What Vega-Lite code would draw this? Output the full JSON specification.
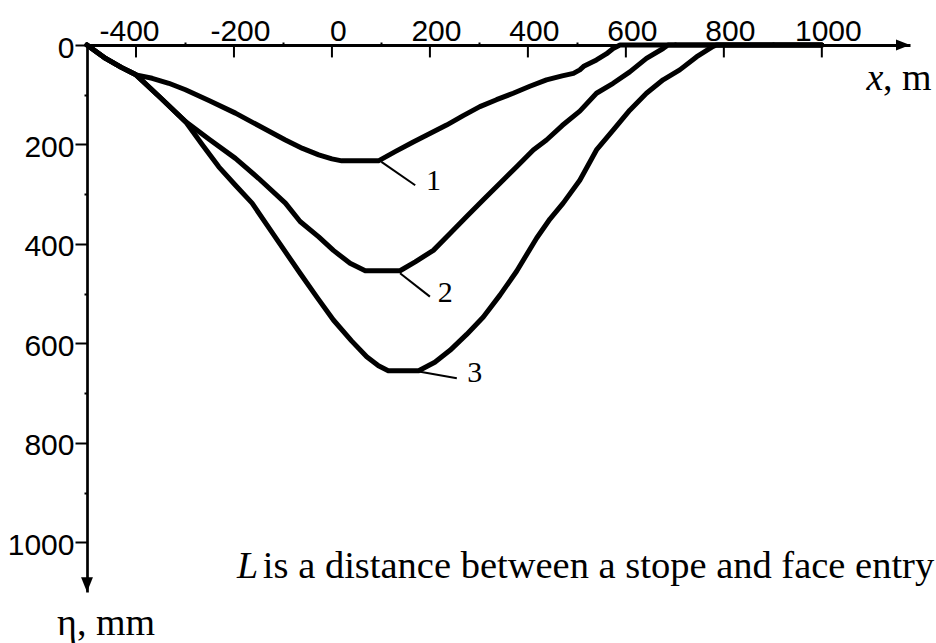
{
  "$schema": "https://vega.github.io/schema/vega-lite/v6.json",
  "width": 823,
  "height": 547,
  "autosize": {"type": "none"},
  "padding": {"left": 87, "top": 45, "right": 26, "bottom": 51},
  "background": "white",
  "config": {"view": {"stroke": null}},
  "datasets": {
    "profiles": [
      {"curve": "1", "x": -500, "eta": 0}, {"curve": "1", "x": -462, "eta": 27}, {"curve": "1", "x": -430, "eta": 45},
      {"curve": "1", "x": -400, "eta": 60}, {"curve": "1", "x": -367, "eta": 67}, {"curve": "1", "x": -333, "eta": 77},
      {"curve": "1", "x": -299, "eta": 90}, {"curve": "1", "x": -250, "eta": 112}, {"curve": "1", "x": -197, "eta": 137},
      {"curve": "1", "x": -150, "eta": 162}, {"curve": "1", "x": -95, "eta": 191}, {"curve": "1", "x": -60, "eta": 208},
      {"curve": "1", "x": -27, "eta": 221}, {"curve": "1", "x": 0, "eta": 229}, {"curve": "1", "x": 20, "eta": 233},
      {"curve": "1", "x": 95, "eta": 233}, {"curve": "1", "x": 130, "eta": 214}, {"curve": "1", "x": 166, "eta": 195},
      {"curve": "1", "x": 200, "eta": 178}, {"curve": "1", "x": 234, "eta": 161}, {"curve": "1", "x": 268, "eta": 142},
      {"curve": "1", "x": 302, "eta": 124}, {"curve": "1", "x": 336, "eta": 110}, {"curve": "1", "x": 370, "eta": 97},
      {"curve": "1", "x": 404, "eta": 83}, {"curve": "1", "x": 438, "eta": 70}, {"curve": "1", "x": 470, "eta": 62},
      {"curve": "1", "x": 493, "eta": 57}, {"curve": "1", "x": 506, "eta": 50}, {"curve": "1", "x": 515, "eta": 42},
      {"curve": "1", "x": 540, "eta": 30}, {"curve": "1", "x": 560, "eta": 18}, {"curve": "1", "x": 574, "eta": 7},
      {"curve": "1", "x": 588, "eta": 0}, {"curve": "1", "x": 1000, "eta": 0},

      {"curve": "2", "x": -500, "eta": 0}, {"curve": "2", "x": -462, "eta": 27}, {"curve": "2", "x": -430, "eta": 45},
      {"curve": "2", "x": -400, "eta": 60}, {"curve": "2", "x": -350, "eta": 106}, {"curve": "2", "x": -299, "eta": 154},
      {"curve": "2", "x": -250, "eta": 190}, {"curve": "2", "x": -197, "eta": 228}, {"curve": "2", "x": -150, "eta": 268},
      {"curve": "2", "x": -95, "eta": 318}, {"curve": "2", "x": -65, "eta": 355}, {"curve": "2", "x": -27, "eta": 386},
      {"curve": "2", "x": 3, "eta": 413}, {"curve": "2", "x": 37, "eta": 439}, {"curve": "2", "x": 68, "eta": 454},
      {"curve": "2", "x": 139, "eta": 454}, {"curve": "2", "x": 170, "eta": 436}, {"curve": "2", "x": 207, "eta": 413},
      {"curve": "2", "x": 241, "eta": 379}, {"curve": "2", "x": 275, "eta": 345}, {"curve": "2", "x": 309, "eta": 311},
      {"curve": "2", "x": 343, "eta": 278}, {"curve": "2", "x": 377, "eta": 245}, {"curve": "2", "x": 411, "eta": 211},
      {"curve": "2", "x": 438, "eta": 191}, {"curve": "2", "x": 470, "eta": 162}, {"curve": "2", "x": 506, "eta": 133},
      {"curve": "2", "x": 540, "eta": 97}, {"curve": "2", "x": 574, "eta": 77}, {"curve": "2", "x": 608, "eta": 54},
      {"curve": "2", "x": 642, "eta": 27}, {"curve": "2", "x": 676, "eta": 7}, {"curve": "2", "x": 686, "eta": 0},
      {"curve": "2", "x": 1000, "eta": 0},

      {"curve": "3", "x": -500, "eta": 0}, {"curve": "3", "x": -462, "eta": 27}, {"curve": "3", "x": -430, "eta": 45},
      {"curve": "3", "x": -400, "eta": 60}, {"curve": "3", "x": -350, "eta": 106}, {"curve": "3", "x": -299, "eta": 154},
      {"curve": "3", "x": -265, "eta": 200}, {"curve": "3", "x": -231, "eta": 245}, {"curve": "3", "x": -197, "eta": 282},
      {"curve": "3", "x": -163, "eta": 318}, {"curve": "3", "x": -116, "eta": 386}, {"curve": "3", "x": -65, "eta": 459},
      {"curve": "3", "x": -30, "eta": 508}, {"curve": "3", "x": 3, "eta": 553}, {"curve": "3", "x": 40, "eta": 595},
      {"curve": "3", "x": 71, "eta": 627}, {"curve": "3", "x": 95, "eta": 645}, {"curve": "3", "x": 115, "eta": 655},
      {"curve": "3", "x": 177, "eta": 655}, {"curve": "3", "x": 210, "eta": 638}, {"curve": "3", "x": 241, "eta": 614},
      {"curve": "3", "x": 275, "eta": 582}, {"curve": "3", "x": 309, "eta": 547}, {"curve": "3", "x": 343, "eta": 503},
      {"curve": "3", "x": 377, "eta": 455}, {"curve": "3", "x": 418, "eta": 388}, {"curve": "3", "x": 445, "eta": 350},
      {"curve": "3", "x": 472, "eta": 318}, {"curve": "3", "x": 506, "eta": 272}, {"curve": "3", "x": 540, "eta": 211},
      {"curve": "3", "x": 574, "eta": 171}, {"curve": "3", "x": 608, "eta": 131}, {"curve": "3", "x": 642, "eta": 97},
      {"curve": "3", "x": 676, "eta": 70}, {"curve": "3", "x": 710, "eta": 50}, {"curve": "3", "x": 744, "eta": 24},
      {"curve": "3", "x": 778, "eta": 3}, {"curve": "3", "x": 785, "eta": 0}, {"curve": "3", "x": 1000, "eta": 0}
    ],
    "callouts": [
      {"curve": "1", "x": 101, "eta": 235, "x2": 170, "eta2": 282, "tx": 192, "teta": 274},
      {"curve": "2", "x": 139, "eta": 459, "x2": 200, "eta2": 506, "tx": 216, "teta": 498},
      {"curve": "3", "x": 180, "eta": 657, "x2": 255, "eta2": 670, "tx": 276, "teta": 659}
    ],
    "majorTicks": [
      {"x": -400}, {"x": -200}, {"x": 0}, {"x": 200}, {"x": 400}, {"x": 600}, {"x": 800}, {"x": 1000}
    ]
  },
  "layer": [
    {
      "data": {"name": "profiles"},
      "mark": {"type": "line", "color": "black", "strokeWidth": 5, "strokeJoin": "round", "strokeCap": "round"},
      "encoding": {
        "x": {
          "field": "x", "type": "quantitative",
          "scale": {"domain": [-500, 1180], "nice": false, "zero": false},
          "axis": {
            "orient": "top",
            "values": [-400, -300, -200, -100, 0, 100, 200, 300, 400, 500, 600, 700, 800, 900, 1000],
            "labelExpr": "datum.value % 200 === 0 ? toString(datum.value) : ''",
            "tickSize": {"condition": {"test": "datum.value % 200 !== 0", "value": 3}, "value": 0},
            "tickWidth": 2, "tickColor": "black",
            "domainColor": "black", "domainWidth": 3,
            "labelFont": "Liberation Sans", "labelFontSize": 30, "labelColor": "black",
            "labelBaseline": "alphabetic", "labelPadding": 5,
            "labelOffset": {"condition": {"test": "datum.value === -400", "value": -7}, "value": 6},
            "labelFlush": false, "labelOverlap": false, "labelBound": false,
            "grid": false, "title": null
          }
        },
        "y": {
          "field": "eta", "type": "quantitative",
          "scale": {"domain": [0, 1100], "nice": false, "zero": false, "reverse": true},
          "axis": {
            "orient": "left",
            "values": [0, 100, 200, 300, 400, 500, 600, 700, 800, 900, 1000],
            "labelExpr": "datum.value % 200 === 0 ? toString(datum.value) : ''",
            "tickSize": {"condition": {"test": "datum.value % 200 !== 0", "value": 3}, "value": 12},
            "tickWidth": 2, "tickColor": "black",
            "domainColor": "black", "domainWidth": 2.7,
            "labelFont": "Liberation Sans", "labelFontSize": 30, "labelColor": "black",
            "labelPadding": 1, "labelOffset": 3,
            "labelFlush": false, "labelOverlap": false, "labelBound": false,
            "grid": false, "title": null
          }
        },
        "detail": {"field": "curve"}
      }
    },
    {
      "data": {"name": "majorTicks"},
      "mark": {"type": "rule", "color": "black", "strokeWidth": 2},
      "encoding": {
        "x": {"field": "x", "type": "quantitative"},
        "y": {"datum": 0, "type": "quantitative"},
        "y2": {"datum": 25}
      }
    },
    {
      "data": {"name": "callouts"},
      "mark": {"type": "rule", "color": "black", "strokeWidth": 2},
      "encoding": {
        "x": {"field": "x", "type": "quantitative"},
        "y": {"field": "eta", "type": "quantitative"},
        "x2": {"field": "x2"},
        "y2": {"field": "eta2"}
      }
    },
    {
      "data": {"name": "callouts"},
      "mark": {"type": "text", "font": "Liberation Serif", "fontSize": 30, "align": "left", "baseline": "middle", "color": "black"},
      "encoding": {
        "x": {"field": "tx", "type": "quantitative"},
        "y": {"field": "teta", "type": "quantitative"},
        "text": {"field": "curve"}
      }
    },
    {
      "data": {"values": [{}]},
      "mark": {"type": "point", "shape": "M0,0L-2,-0.8L-2,0.8Z", "filled": true, "color": "black", "opacity": 1, "size": 196},
      "encoding": {"x": {"datum": 1180, "type": "quantitative"}, "y": {"datum": 0, "type": "quantitative"}}
    },
    {
      "data": {"values": [{}]},
      "mark": {"type": "point", "shape": "M0,0L-0.85,-2.1L0.85,-2.1Z", "filled": true, "color": "black", "opacity": 1, "size": 196},
      "encoding": {"x": {"datum": -500, "type": "quantitative"}, "y": {"datum": 1100, "type": "quantitative"}}
    },
    {
      "data": {"values": [{}]},
      "mark": {"type": "text", "text": "x", "font": "Liberation Serif", "fontStyle": "italic", "fontSize": 38, "align": "left", "baseline": "alphabetic", "color": "black"},
      "encoding": {"x": {"datum": 1091, "type": "quantitative"}, "y": {"datum": 90, "type": "quantitative"}}
    },
    {
      "data": {"values": [{}]},
      "mark": {"type": "text", "text": ", m", "font": "Liberation Serif", "fontSize": 38, "align": "left", "baseline": "alphabetic", "color": "black"},
      "encoding": {"x": {"datum": 1125, "type": "quantitative"}, "y": {"datum": 90, "type": "quantitative"}}
    },
    {
      "data": {"values": [{}]},
      "mark": {"type": "text", "text": "η, mm", "font": "Liberation Serif", "fontSize": 38, "align": "left", "baseline": "alphabetic", "color": "black"},
      "encoding": {"x": {"datum": -561, "type": "quantitative"}, "y": {"datum": 1186, "type": "quantitative"}}
    },
    {
      "data": {"values": [{}]},
      "mark": {"type": "text", "text": "L", "font": "Liberation Serif", "fontStyle": "italic", "fontSize": 38, "align": "left", "baseline": "alphabetic", "color": "black"},
      "encoding": {"x": {"datum": -194, "type": "quantitative"}, "y": {"datum": 1072, "type": "quantitative"}}
    },
    {
      "data": {"values": [{}]},
      "mark": {"type": "text", "text": "is a distance between a stope and face entry", "font": "Liberation Serif", "fontSize": 38.5, "align": "left", "baseline": "alphabetic", "color": "black"},
      "encoding": {"x": {"datum": -141, "type": "quantitative"}, "y": {"datum": 1072, "type": "quantitative"}}
    }
  ]
}
